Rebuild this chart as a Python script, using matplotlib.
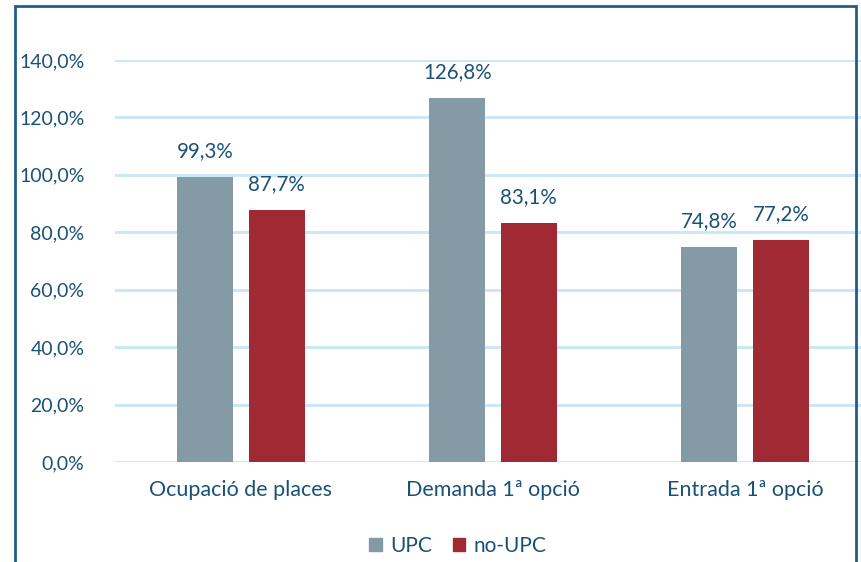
import numpy as np
import matplotlib.pyplot as plt
from matplotlib.patches import Patch, Rectangle

plt.rcParams['font.family'] = ['Lato', 'DejaVu Sans']

categories = ["Ocupació de places", "Demanda 1ª opció", "Entrada 1ª opció"]
upc = [99.3, 126.8, 74.8]
no_upc = [87.7, 83.1, 77.2]
yticks = [0, 20, 40, 60, 80, 100, 120, 140]

c_upc = "#849ba5"
c_no = "#a02a33"
c_text = "#1b5177"
c_grid = "#c6e7f7"


def pct(v):
    return f"{v:.1f}%".replace(".", ",")


fig = plt.figure(figsize=(8.62, 5.62), dpi=100)
ax = fig.add_axes([115 / 862, 100 / 562, 756 / 862, 402 / 562])

x = np.arange(len(categories))
w = 0.222
off = 0.142
b1 = ax.bar(x - off, upc, w, color=c_upc, zorder=3)
b2 = ax.bar(x + off, no_upc, w, color=c_no, zorder=3)

# value labels above bars
for bars, vals in ((b1, upc), (b2, no_upc)):
    for b, v in zip(bars, vals):
        ax.text(b.get_x() + b.get_width() / 2, v + 5.6, pct(v),
                ha="center", va="bottom", fontsize=14.8, color=c_text)

ax.set_xlim(-0.5, 2.5)
ax.set_ylim(0, 140)
ax.set_yticks(yticks)
ax.set_yticklabels([pct(t) for t in yticks])
ax.set_xticks(x)
ax.set_xticklabels(categories, fontsize=15.5)
ax.tick_params(axis="both", length=0, colors=c_text)
ax.tick_params(axis="y", labelsize=14, pad=22)
ax.tick_params(axis="x", pad=13)
ax.grid(axis="y", color=c_grid, linewidth=2, zorder=0)
for s in ax.spines.values():
    s.set_visible(False)

handles = [Patch(color=c_upc, label="UPC"), Patch(color=c_no, label="no-UPC")]
fig.legend(handles=handles, loc="center", bbox_to_anchor=(458 / 862, 16 / 562),
           ncol=2, frameon=False, fontsize=15, labelcolor=c_text,
           handlelength=0.6, handleheight=0.6, handletextpad=0.4, columnspacing=1.0)

# chart frame (bottom edge is cut off in the original)
fig.patches.append(Rectangle((15 / 862, -0.1), 841 / 862, 1.1 - 6 / 562,
                             transform=fig.transFigure, fill=False,
                             edgecolor="#1f5f86", linewidth=2))

fig.savefig("out.png", dpi=100)
